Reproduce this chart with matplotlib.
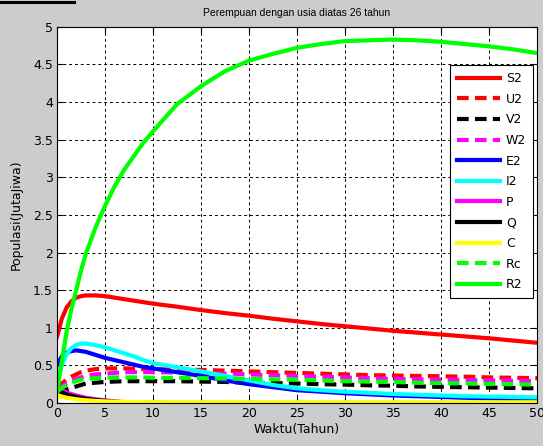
import matplotlib
matplotlib.use("Agg")
import matplotlib.pyplot as plt
from matplotlib import font_manager
from matplotlib.lines import Line2D

# time axis (years)
t = [0, 0.5, 1, 1.5, 2, 2.5, 3, 4, 5, 6, 7, 8, 9, 10, 12.5, 15, 17.5, 20,
     22.5, 25, 27.5, 30, 32.5, 35, 37.5, 40, 42.5, 45, 47.5, 50]

S2 = [0.88, 1.12, 1.27, 1.35, 1.40, 1.42, 1.43, 1.43, 1.42, 1.40, 1.38, 1.36,
      1.34, 1.32, 1.28, 1.235, 1.195, 1.16, 1.12, 1.085, 1.05, 1.02, 0.99,
      0.96, 0.935, 0.91, 0.885, 0.86, 0.83, 0.80]
U2 = [0.20, 0.26, 0.31, 0.35, 0.38, 0.41, 0.43, 0.45, 0.46, 0.46, 0.46, 0.455,
      0.45, 0.45, 0.445, 0.44, 0.43, 0.42, 0.41, 0.40, 0.39, 0.38, 0.37,
      0.365, 0.36, 0.355, 0.35, 0.34, 0.335, 0.33]
V2 = [0.17, 0.17, 0.18, 0.20, 0.22, 0.24, 0.26, 0.27, 0.28, 0.285, 0.29, 0.29,
      0.29, 0.29, 0.29, 0.285, 0.28, 0.27, 0.265, 0.26, 0.25, 0.245, 0.235,
      0.23, 0.22, 0.215, 0.21, 0.205, 0.20, 0.195]
W2 = [0.18, 0.22, 0.26, 0.29, 0.32, 0.34, 0.36, 0.38, 0.39, 0.40, 0.41, 0.41,
      0.41, 0.41, 0.405, 0.40, 0.39, 0.38, 0.37, 0.36, 0.35, 0.34, 0.33,
      0.32, 0.315, 0.31, 0.305, 0.30, 0.295, 0.29]
E2 = [0.50, 0.62, 0.67, 0.69, 0.70, 0.69, 0.68, 0.64, 0.60, 0.57, 0.54, 0.51,
      0.48, 0.46, 0.41, 0.36, 0.30, 0.25, 0.21, 0.17, 0.15, 0.13, 0.115,
      0.10, 0.09, 0.08, 0.07, 0.06, 0.055, 0.05]
I2 = [0.30, 0.50, 0.65, 0.73, 0.77, 0.79, 0.79, 0.77, 0.74, 0.70, 0.66, 0.62,
      0.57, 0.53, 0.475, 0.42, 0.36, 0.30, 0.24, 0.195, 0.17, 0.15, 0.135,
      0.12, 0.11, 0.10, 0.09, 0.085, 0.08, 0.075]
P = [0.20, 0.17, 0.14, 0.12, 0.10, 0.085, 0.07, 0.05, 0.035, 0.022, 0.012,
     0.006, 0.003, 0.001, 0, 0, 0, 0, 0, 0, 0, 0, 0, 0, 0, 0, 0, 0, 0, 0]
Q = [0.18, 0.14, 0.115, 0.095, 0.08, 0.067, 0.055, 0.04, 0.027, 0.017, 0.01,
     0.005, 0.002, 0.001, 0, 0, 0, 0, 0, 0, 0, 0, 0, 0, 0, 0, 0, 0, 0, 0]
C = [0.10, 0.085, 0.07, 0.06, 0.05, 0.043, 0.037, 0.028, 0.022, 0.018, 0.015,
     0.013, 0.012, 0.011, 0.01, 0.01, 0.01, 0.01, 0.01, 0.01, 0.01, 0.01,
     0.01, 0.01, 0.01, 0.01, 0.01, 0.01, 0.01, 0.01]
Rc = [0.15, 0.20, 0.24, 0.27, 0.29, 0.31, 0.32, 0.33, 0.335, 0.34, 0.34, 0.34,
      0.34, 0.335, 0.335, 0.33, 0.325, 0.32, 0.315, 0.31, 0.30, 0.29, 0.285,
      0.28, 0.27, 0.265, 0.26, 0.255, 0.25, 0.245]
R2 = [0.15, 0.55, 0.95, 1.25, 1.50, 1.76, 1.98, 2.33, 2.62, 2.88, 3.10, 3.28,
      3.46, 3.61, 3.97, 4.21, 4.41, 4.55, 4.64, 4.72, 4.77, 4.81, 4.82,
      4.83, 4.82, 4.80, 4.77, 4.74, 4.70, 4.65]

series = [
    ("S2", S2, "#ff0000", "-"),
    ("U2", U2, "#ff0000", "--"),
    ("V2", V2, "#000000", "--"),
    ("W2", W2, "#ff00ff", "--"),
    ("E2", E2, "#0000ff", "-"),
    ("I2", I2, "#00ffff", "-"),
    ("P", P, "#ff00ff", "-"),
    ("Q", Q, "#000000", "-"),
    ("C", C, "#ffff00", "-"),
    ("Rc", Rc, "#00ff00", "--"),
    ("R2", R2, "#00ff00", "-"),
]

x_ticks = [0, 5, 10, 15, 20, 25, 30, 35, 40, 45, 50]
y_ticks = [0, 0.5, 1, 1.5, 2, 2.5, 3, 3.5, 4, 4.5, 5]
y_tick_labels = ["0", "0.5", "1", "1.5", "2", "2.5", "3", "3.5", "4", "4.5", "5"]

plt.rcParams["font.family"] = ["DejaVu Sans"]
plt.rcParams["font.size"] = 9

# a narrow face for the title when one is available
installed = {f.name for f in font_manager.fontManager.ttflist}
if "Liberation Sans Narrow" in installed:
    title_font, title_size = "Liberation Sans Narrow", 8.8
else:
    title_font, title_size = "Liberation Sans", 7.5

fig = plt.figure(figsize=(5.43, 4.46), dpi=100, facecolor="#cccccc")
ax = fig.add_axes([0.105, 0.0964, 0.884, 0.8436])
ax.set_facecolor("white")

for name, vals, col, ls in series:
    if ls == "--":
        ax.plot(t, vals, color=col, lw=3, linestyle=(0, (2.8, 1.5)), label=name,
                solid_capstyle="butt", dash_capstyle="butt")
    else:
        ax.plot(t, vals, color=col, lw=3, label=name)

ax.set_xlim(0, 50)
ax.set_ylim(0, 5)
ax.set_xticks(x_ticks)
ax.set_yticks(y_ticks)
ax.set_yticklabels(y_tick_labels)
ax.tick_params(direction="in", length=4, width=0.8, top=True, right=True,
               labelsize=9, pad=3)
ax.grid(True, color="black", linestyle=(0, (3, 3)), linewidth=0.7)
for sp in ax.spines.values():
    sp.set_linewidth(0.8)

ax.set_title("Perempuan dengan usia diatas 26 tahun", fontsize=title_size,
             family=title_font, pad=8)
ax.set_xlabel("Waktu(Tahun)", labelpad=2)
ax.set_ylabel("Populasi(JutaJiwa)", labelpad=7)

leg = ax.legend(loc="upper right", bbox_to_anchor=(0.9917, 0.898),
                borderaxespad=0, fancybox=False, framealpha=1,
                edgecolor="black", handlelength=3.5, labelspacing=0.61,
                borderpad=0.55, handletextpad=0.45)
leg.get_frame().set_linewidth(0.8)

fig.add_artist(Line2D([0.002, 0.136], [0.9955, 0.9955], transform=fig.transFigure,
                      color="black", lw=2.2))

fig.savefig("out.png", dpi=100, facecolor=fig.get_facecolor())
